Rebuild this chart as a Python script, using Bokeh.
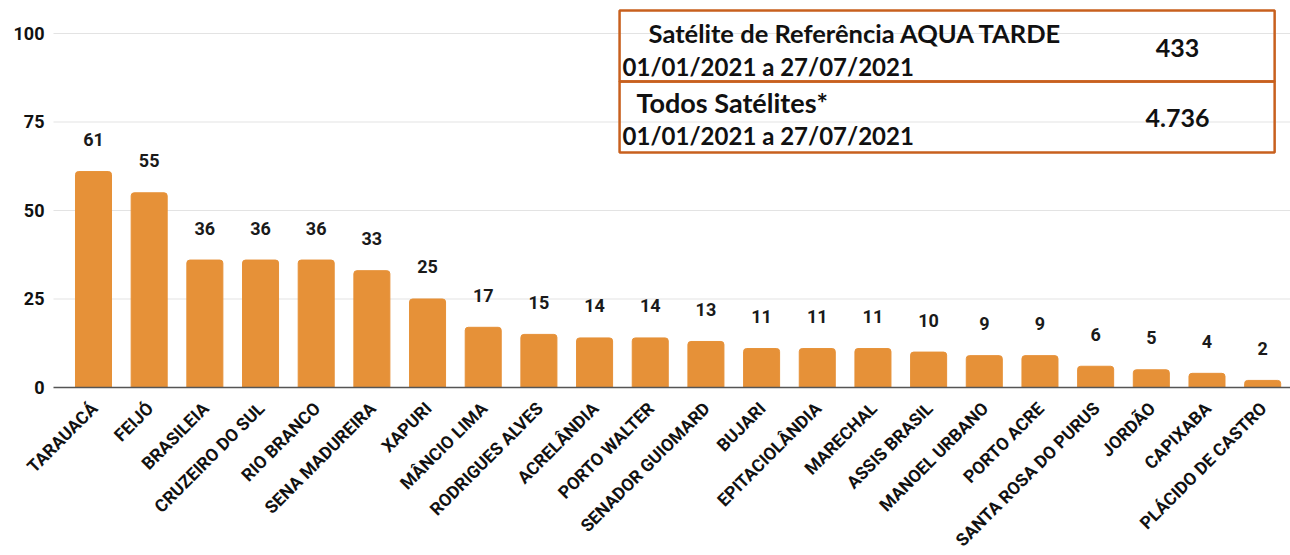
from bokeh.plotting import figure
from bokeh.models import ColumnDataSource, FixedTicker, Range1d, BoxAnnotation, Label, LabelSet
from bokeh.core.properties import value
from bokeh.embed import file_html
from bokeh.resources import INLINE
import math

municipios = ["TARAUACÁ", "FEIJÓ", "BRASILEIA", "CRUZEIRO DO SUL", "RIO BRANCO",
              "SENA MADUREIRA", "XAPURI", "MÂNCIO LIMA", "RODRIGUES ALVES", "ACRELÂNDIA",
              "PORTO WALTER", "SENADOR GUIOMARD", "BUJARI", "EPITACIOLÂNDIA", "MARECHAL",
              "ASSIS BRASIL", "MANOEL URBANO", "PORTO ACRE", "SANTA ROSA DO PURUS",
              "JORDÃO", "CAPIXABA", "PLÁCIDO DE CASTRO"]
focos = [61, 55, 36, 36, 36, 33, 25, 17, 15, 14, 14, 13, 11, 11, 11, 10, 9, 9, 6, 5, 4, 2]
y_ticks = [0, 25, 50, 75, 100]

periodo = "01/01/2021 a 27/07/2021"
linha1_titulo = "Satélite de Referência AQUA TARDE"
linha1_valor = "433"
linha2_titulo = "Todos Satélites*"
linha2_valor = "4.736"

n = len(municipios)
xs = list(range(n))
src = ColumnDataSource(dict(x=xs, top=focos, lbl=[str(v) for v in focos],
                            base=[0] * n, nome=municipios))

X_START, X_END = -1.6705, 21.50      # whole canvas width is frame
GRID_X0 = -0.7185                     # where the value axis area begins
TICK_X = -0.88                        # right edge of the value tick labels

# the frame covers the whole canvas so that rotated names and tick labels are not clipped
p = figure(width=1290, height=555, output_backend="svg", toolbar_location=None,
           x_range=Range1d(X_START, X_END), y_range=Range1d(-47.46, 109.32),
           x_axis_location=None, y_axis_location=None,
           min_border_left=0, min_border_right=0, min_border_top=0, min_border_bottom=0)
p.outline_line_color = None
p.background_fill_color = "white"
p.xgrid.grid_line_color = None
p.ygrid.grid_line_color = None

# horizontal gridlines and baseline
grid_src = ColumnDataSource(dict(y=y_ticks[1:], x0=[GRID_X0] * 4, x1=[X_END] * 4))
p.segment(x0="x0", x1="x1", y0="y", y1="y", source=grid_src, line_color="#e3e3e3", line_width=1)

p.vbar(x="x", top="top", width=0.647, source=src, color="#E69138", border_radius=(3, 3, 0, 0))

p.segment(x0=[GRID_X0], x1=[X_END], y0=[0], y1=[0], line_color="#555555", line_width=1.3)

# value tick labels
tick_src = ColumnDataSource(dict(y=y_ticks, x=[TICK_X] * len(y_ticks),
                                 t=[str(v) for v in y_ticks]))
p.add_layout(LabelSet(x="x", y="y", text="t", source=tick_src, text_align="right",
                      text_baseline="middle", text_font=value("Roboto"),
                      text_font_style="bold", text_font_size="18px", text_color="#111111"))

# bar value labels
p.add_layout(LabelSet(x="x", y="top", text="lbl", source=src, text_align="center",
                      text_baseline="middle", y_offset=32, text_font=value("Roboto"),
                      text_font_style="bold", text_font_size="18px", text_color="#1a1a1a"))

# category names, rotated 45 degrees, hanging below the baseline
p.add_layout(LabelSet(x="x", y="base", text="nome", source=src, text_align="right",
                      text_baseline="middle", angle=math.pi / 4, x_offset=1, y_offset=-18,
                      text_font=value("Roboto"), text_font_style="bold",
                      text_font_size="17.5px", text_color="#111111"))

# summary table box
box_left, box_right = 9.449, 21.215
row_top, row_mid, row_bot = 106.5, 86.44, 66.38
for top, bot in [(row_top, row_mid), (row_mid, row_bot)]:
    p.add_layout(BoxAnnotation(left=box_left, right=box_right, top=top, bottom=bot,
                               fill_alpha=0.0, line_color="#C8601E", line_alpha=1.0,
                               line_width=2.5))

def add_label(x, y, text, align="left", size="24px"):
    p.add_layout(Label(x=x, y=y, text=text, text_font="Lato", text_font_style="bold",
                       text_font_size=size, text_align=align, text_baseline="middle",
                       text_color="#111111"))

add_label(9.970, 100.0, linha1_titulo, size="25.5px")
add_label(9.503, 90.7, periodo)
add_label(19.472, 95.8, linha1_valor, align="center", size="25px")
add_label(9.754, 80.6, linha2_titulo, size="27px")
add_label(9.503, 71.2, periodo)
add_label(19.472, 76.0, linha2_valor, align="center", size="25px")

open("out.html", "w").write(file_html(p, INLINE))
